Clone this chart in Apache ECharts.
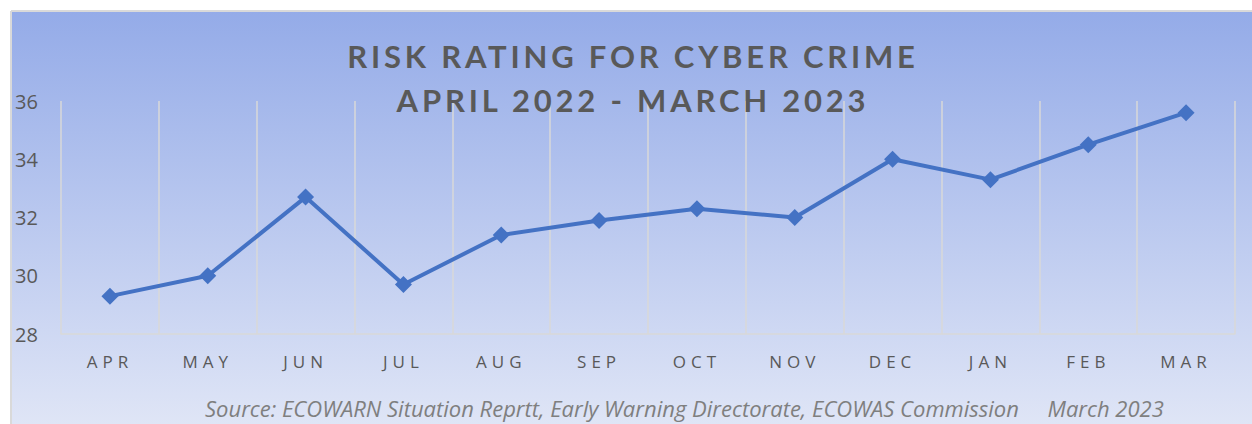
<!DOCTYPE html>
<html>
<head>
<meta charset="utf-8">
<script src="https://cdn.jsdelivr.net/npm/echarts@6/dist/echarts.min.js"></script>
<style>
html,body{margin:0;padding:0;background:#fff;}
#chart{width:1252px;height:424px;}
</style>
</head>
<body>
<div id="chart"></div>
<script>
const categories = ['APR','MAY','JUN','JUL','AUG','SEP','OCT','NOV','DEC','JAN','FEB','MAR'];
const riskValues = [29.3, 30.0, 32.7, 29.7, 31.4, 31.9, 32.3, 32.0, 34.0, 33.3, 34.5, 35.6];
const titleLines = ['RISK RATING FOR CYBER CRIME', 'APRIL 2022 - MARCH 2023'];
const sourceText = 'Source: ECOWARN Situation Reprtt, Early Warning Directorate, ECOWAS Commission     March 2023';
const yMin = 28, yMax = 36, yStep = 2;

const chart = echarts.init(document.getElementById('chart'), null, {renderer: 'svg'});
chart.setOption({
  animation: false,
  graphic: {
    elements: [
      {type: 'rect', z: -100, silent: true, shape: {x: 11, y: 11, width: 1241, height: 413},
       style: {fill: new echarts.graphic.LinearGradient(0, 0, 0, 1, [
         {offset: 0, color: '#94abe8'}, {offset: 1, color: '#dfe5f6'}])}},
      {type: 'line', z: -99, silent: true, shape: {x1: 11, y1: 11, x2: 1252, y2: 11},
       style: {stroke: '#d9d9d9', lineWidth: 2}},
      {type: 'line', z: -99, silent: true, shape: {x1: 11, y1: 11, x2: 11, y2: 424},
       style: {stroke: '#d9d9d9', lineWidth: 2}}
    ]
  },
  title: [
    {text: titleLines.join('\n'), left: 628, textAlign: 'center', top: 29,
     textStyle: {fontFamily: 'Lato', fontWeight: 'bold', fontSize: 31, color: '#595959', lineHeight: 44}},
    {text: sourceText, left: 205, top: 396, padding: 0,
     textStyle: {fontFamily: 'Open Sans', fontStyle: 'italic', fontWeight: 'normal', fontSize: 22, lineHeight: 24, color: '#7f7f7f'}}
  ],
  grid: {left: 61, right: 17, top: 101, bottom: 90, containLabel: false},
  xAxis: {
    type: 'category', data: categories, boundaryGap: true,
    axisLine: {show: true, lineStyle: {color: '#d9d9d9', width: 1.5}},
    axisTick: {show: false},
    splitLine: {show: true, lineStyle: {color: '#d9d9d9', width: 1.5}},
    axisLabel: {color: '#595959', fontFamily: 'Open Sans', fontSize: 17, margin: 19, interval: 0}
  },
  yAxis: {
    type: 'value', min: yMin, max: yMax, interval: yStep,
    axisLine: {show: false}, axisTick: {show: false},
    splitLine: {show: false},
    axisLabel: {color: '#595959', fontFamily: 'Open Sans', fontSize: 20, align: 'left', margin: 46, padding: [0, 0, 4, 0]}
  },
  series: [{
    type: 'line', data: riskValues,
    lineStyle: {color: '#4472c4', width: 4},
    itemStyle: {color: '#4472c4'},
    symbol: 'diamond', symbolSize: 17, showSymbol: true
  }]
});

function applySpacing() {
  document.querySelectorAll('#chart svg text').forEach(function (t) {
    const s = t.textContent;
    if (titleLines.indexOf(s) >= 0) t.setAttribute('letter-spacing', '3.8');
    else if (categories.indexOf(s) >= 0) t.setAttribute('letter-spacing', '5');
  });
}
applySpacing();
chart.on('finished', applySpacing);
</script>
</body>
</html>
